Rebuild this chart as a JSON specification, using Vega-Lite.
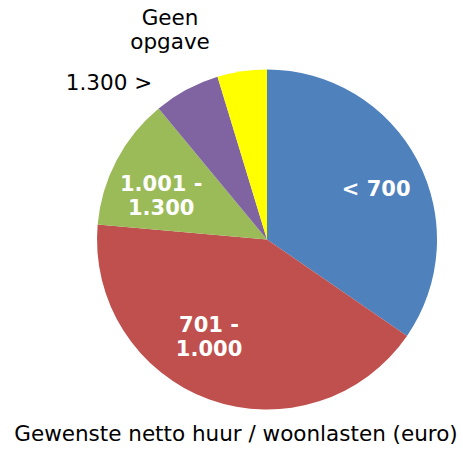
{
  "$schema": "https://vega.github.io/schema/vega-lite/v6.json",
  "autosize": "none",
  "width": 392,
  "height": 340,
  "padding": {"left": 71, "top": 69.5, "right": 0, "bottom": 40.5},
  "background": "white",
  "title": {
    "text": "Gewenste netto huur / woonlasten (euro)",
    "orient": "bottom",
    "frame": "group",
    "anchor": "middle",
    "dx": -31,
    "offset": -17,
    "font": "DejaVu Sans",
    "fontSize": 21.5,
    "fontWeight": "normal",
    "color": "#000000"
  },
  "config": {"view": {"stroke": null}},
  "data": {
    "values": [
      {"idx": 1, "cat": "< 700", "label": "< 700", "value": 34.6},
      {"idx": 2, "cat": "701 - 1.000", "label": "701 -\n1.000", "value": 41.8},
      {"idx": 3, "cat": "1.001 - 1.300", "label": "1.001 -\n1.300", "value": 12.6},
      {"idx": 4, "cat": "1.300 >", "label": "1.300 >", "value": 6.3},
      {"idx": 5, "cat": "Geen opgave", "label": "Geen\nopgave", "value": 4.7}
    ]
  },
  "encoding": {
    "theta": {"field": "value", "type": "quantitative", "stack": true},
    "order": {"field": "idx", "type": "quantitative"}
  },
  "layer": [
    {
      "mark": {"type": "arc", "radius": 170},
      "encoding": {
        "color": {
          "field": "cat",
          "type": "nominal",
          "legend": null,
          "scale": {
            "domain": ["< 700", "701 - 1.000", "1.001 - 1.300", "1.300 >", "Geen opgave"],
            "range": ["#4F81BD", "#C0504D", "#9BBB59", "#8064A2", "#FFFF00"]
          }
        }
      }
    },
    {
      "mark": {"type": "text", "radius": 120, "dx": 3, "dy": 6, "font": "DejaVu Sans", "fontSize": 21, "fontWeight": "bold", "fill": "white", "lineBreak": "\n", "lineHeight": 24},
      "encoding": {
        "detail": {"field": "cat", "type": "nominal"},
        "text": {"condition": {"test": "datum.cat === '< 700'", "field": "label"}, "value": ""}
      }
    },
    {
      "mark": {"type": "text", "radius": 115, "dx": -19, "dy": -22, "font": "DejaVu Sans", "fontSize": 21, "fontWeight": "bold", "fill": "white", "lineBreak": "\n", "lineHeight": 24},
      "encoding": {
        "detail": {"field": "cat", "type": "nominal"},
        "text": {"condition": {"test": "datum.cat === '701 - 1.000'", "field": "label"}, "value": ""}
      }
    },
    {
      "mark": {"type": "text", "radius": 115, "dx": -4, "dy": -1, "font": "DejaVu Sans", "fontSize": 21, "fontWeight": "bold", "fill": "white", "lineBreak": "\n", "lineHeight": 24},
      "encoding": {
        "detail": {"field": "cat", "type": "nominal"},
        "text": {"condition": {"test": "datum.cat === '1.001 - 1.300'", "field": "label"}, "value": ""}
      }
    },
    {
      "mark": {"type": "text", "radius": 190, "dx": -68, "dy": 12, "font": "DejaVu Sans", "fontSize": 21.5, "fill": "black", "lineBreak": "\n", "lineHeight": 24},
      "encoding": {
        "detail": {"field": "cat", "type": "nominal"},
        "text": {"condition": {"test": "datum.cat === '1.300 >'", "field": "label"}, "value": ""}
      }
    },
    {
      "mark": {"type": "text", "radius": 190, "dx": -69, "dy": -33, "font": "DejaVu Sans", "fontSize": 21.5, "fill": "black", "lineBreak": "\n", "lineHeight": 24},
      "encoding": {
        "detail": {"field": "cat", "type": "nominal"},
        "text": {"condition": {"test": "datum.cat === 'Geen opgave'", "field": "label"}, "value": ""}
      }
    }
  ]
}
